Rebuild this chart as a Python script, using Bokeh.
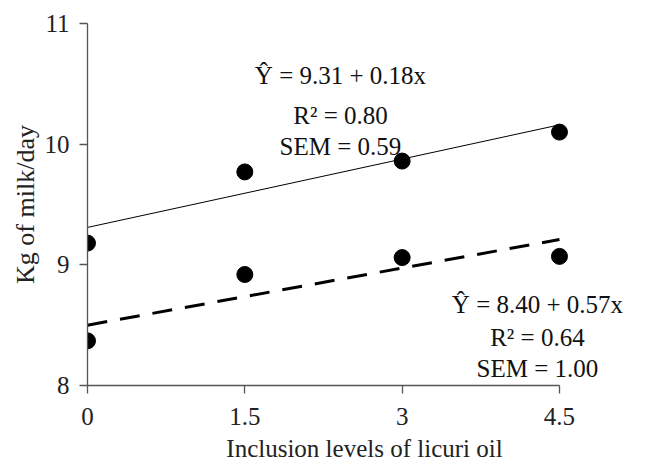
from bokeh.plotting import figure
from bokeh.models import Range1d, FixedTicker, Label, ColumnDataSource, Title
from bokeh.embed import file_html
from bokeh.resources import INLINE

# ---- data ----
levels = [0, 1.5, 3, 4.5]
tick_labels = ["0", "1.5", "3", "4.5"]
y_ticks = [8, 9, 10, 11]
milk_upper = [9.18, 9.77, 9.86, 10.10]
milk_lower = [8.37, 8.92, 9.06, 9.07]
fit_x = [0, 4.5]
fit_upper = [9.31, 10.16]
fit_lower = [8.50, 9.21]
eq_upper = ["Ŷ = 9.31 + 0.18x", "R² = 0.80", "SEM = 0.59"]
eq_lower = ["Ŷ = 8.40 + 0.57x", "R² = 0.64", "SEM = 1.00"]
x_title = "Inclusion levels of licuri oil"
y_title = "Kg of milk/day"

FONT = "Liberation Serif"

p = figure(width=656, height=464, output_backend="svg", toolbar_location=None,
           x_range=Range1d(0, 5.282), y_range=Range1d(8, 11),
           min_border_left=87, min_border_right=15, min_border_top=23, min_border_bottom=78)
p.outline_line_color = None
p.xgrid.visible = False
p.ygrid.visible = False
p.background_fill_color = "white"
p.border_fill_color = "white"

for ax in (p.xaxis[0], p.yaxis[0]):
    ax.axis_line_color = "#555555"
    ax.axis_line_width = 1.3
    ax.major_tick_line_color = "#555555"
    ax.major_tick_line_width = 1.3
    ax.major_tick_in = 0
    ax.major_tick_out = 8
    ax.minor_tick_line_color = None
    ax.major_label_text_font = FONT
    ax.major_label_text_font_size = "25px"
    ax.major_label_text_color = "#222222"
    ax.axis_label_text_font = FONT
    ax.axis_label_text_font_size = "25px"
    ax.axis_label_text_font_style = "normal"
    ax.axis_label_text_color = "#222222"

p.xaxis.bounds = (0, 4.5)
p.xaxis.ticker = FixedTicker(ticks=levels)
p.xaxis.major_label_overrides = {lv: t for lv, t in zip(levels, tick_labels)}
p.yaxis.ticker = FixedTicker(ticks=y_ticks)
p.yaxis.major_label_overrides = {v: str(v) for v in y_ticks}
p.xaxis.axis_label = x_title
p.xaxis.major_label_standoff = 14
p.yaxis.major_label_standoff = 10
p.xaxis.axis_label_standoff = 7

p.add_layout(Title(text=y_title, align="center", offset=-10, standoff=4,
                   text_font=FONT, text_font_size="26px", text_font_style="normal",
                   text_color="#222222"), "left")

p.line(fit_x, fit_upper, line_color="black", line_width=1)
p.line(fit_x, fit_lower, line_color="black", line_width=3, line_dash="20 13")

src = ColumnDataSource(dict(x=levels + levels, y=milk_upper + milk_lower))
p.scatter("x", "y", source=src, size=16, marker="circle",
          fill_color="black", line_color="black")

up_y = [10.57, 10.24, 9.98]
lo_y = [8.67, 8.40, 8.14]
for txt, yy in zip(eq_upper, up_y):
    p.add_layout(Label(x=2.412, y=yy, text=txt, text_align="center", text_baseline="alphabetic",
                       text_font=FONT, text_font_size="25px", text_color="#111111"))
for txt, yy in zip(eq_lower, lo_y):
    p.add_layout(Label(x=4.29, y=yy, text=txt, text_align="center", text_baseline="alphabetic",
                       text_font=FONT, text_font_size="25px", text_color="#111111"))

open("out.html", "w").write(file_html(p, INLINE))
